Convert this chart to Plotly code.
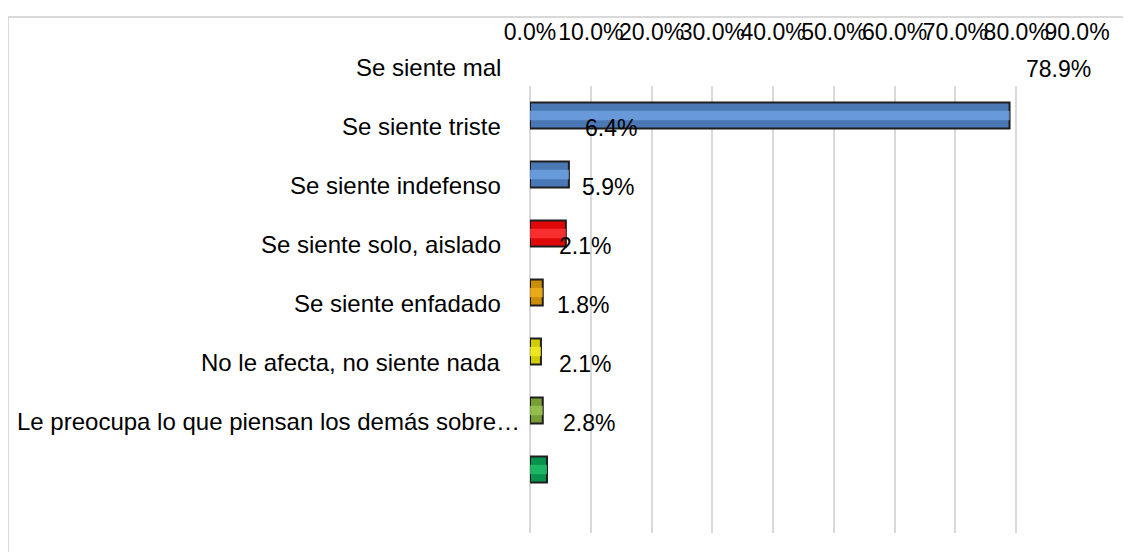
import plotly.graph_objects as go

categories = [
    "Se siente mal",
    "Se siente triste",
    "Se siente indefenso",
    "Se siente solo, aislado",
    "Se siente enfadado",
    "No le afecta, no siente nada",
    "Le preocupa lo que piensan los demás sobre…",
]
values = [0.789, 0.064, 0.059, 0.021, 0.018, 0.021, 0.028]
bar_colors = ["#4A78B5", "#4A78B5", "#E00808", "#C98C04", "#D2CB04", "#789E36", "#06924A"]
highlight_colors = ["#6FA2E2", "#6FA2E2", "#FF3A3A", "#F0B21C", "#F4EE2A", "#9CC455", "#22BF6A"]
tick_vals = [0.0, 0.1, 0.2, 0.3, 0.4, 0.5, 0.6, 0.7, 0.8, 0.9]

# page body has an 8px margin, so the figure is sized to end at the window edge
W, H = 1123, 544
L, R, T, B = 522, 54, 78, 19
FONT = "Liberation Sans, Arial, sans-serif"

fig = go.Figure()
fig.add_trace(go.Bar(
    y=categories, x=values, orientation="h",
    width=0.44,
    marker=dict(color=bar_colors, line=dict(color="#1E1E1E", width=2)),
    hoverinfo="skip", showlegend=False,
))
fig.add_trace(go.Bar(
    y=categories, x=values, orientation="h",
    width=0.16,
    marker=dict(color=highlight_colors, line=dict(width=0), opacity=0.8),
    hoverinfo="skip", showlegend=False,
))

annotations = []
label_shift = [-27, -27, -27, -27, -27, -27, -8]
for cat, val, xs in zip(categories, values, label_shift):
    annotations.append(dict(
        x=0, xref="x", y=cat, yref="y", text=cat, showarrow=False,
        xanchor="right", yanchor="middle", xshift=xs, yshift=48,
        font=dict(family=FONT, size=24, color="#000000"),
    ))
    annotations.append(dict(
        x=val, xref="x", y=cat, yref="y", text=f"{val*100:.1f}%", showarrow=False,
        xanchor="left", yanchor="middle", xshift=14, yshift=47,
        font=dict(family=FONT, size=23, color="#000000"),
    ))

pw = W - L - R
ph = H - T - B
shapes = [dict(
    type="rect", xref="paper", yref="paper",
    x0=(0 - L) / pw, x1=1 + (R + 20) / pw,
    y0=-(B + 20) / ph, y1=1 + (T - 9) / ph,
    line=dict(color="#D9D9D9", width=2), fillcolor="rgba(0,0,0,0)", layer="below",
)]

fig.update_layout(
    width=W, height=H,
    margin=dict(l=L, r=R, t=T, b=B, autoexpand=False),
    paper_bgcolor="white", plot_bgcolor="white",
    annotations=annotations, shapes=shapes,
    barmode="overlay",
)
fig.update_xaxes(
    range=[0, 0.9], side="top", tickvals=tick_vals, tickformat=".1%",
    tickangle=0, showgrid=True, gridcolor="#D9D9D9", gridwidth=2,
    zeroline=True, zerolinecolor="#D9D9D9", zerolinewidth=2,
    showline=False, ticks="",
    ticklabelstandoff=40,
    tickfont=dict(family=FONT, size=23, color="#000000"),
)
fig.update_yaxes(
    autorange="reversed", showticklabels=False, showgrid=False,
    zeroline=False, showline=False, ticks="",
)

fig.write_html("out.html")
